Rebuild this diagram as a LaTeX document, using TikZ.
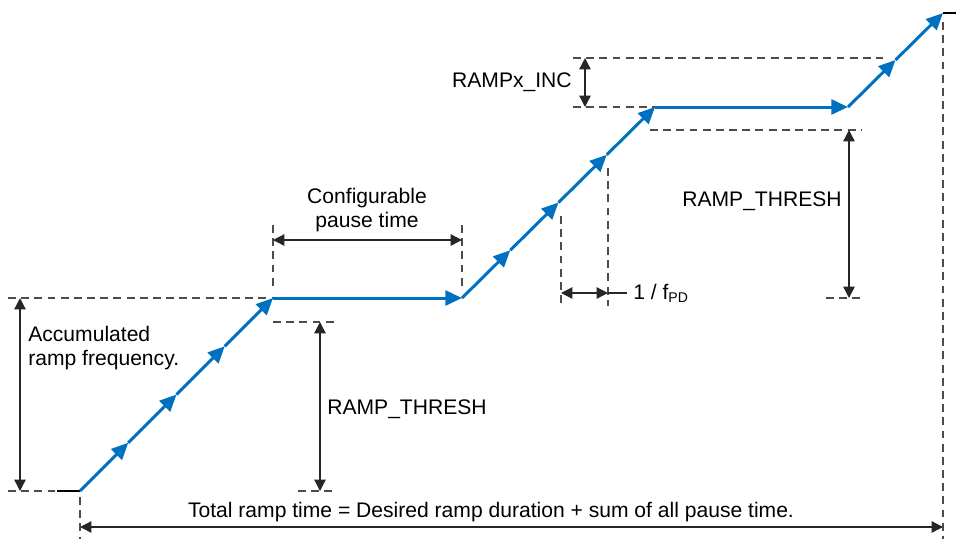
\documentclass[tikz,border=0pt]{standalone}
\usepackage{fontspec}
\setmainfont{Liberation Sans}
\usetikzlibrary{arrows.meta}

\definecolor{rampblue}{RGB}{0,112,192}
\tikzset{
  ramp/.style={draw=rampblue, line width=1.7pt, -{Triangle[length=9.5pt,width=8.5pt]}},
  flat/.style={draw=black, line width=1.1pt},
  guide/.style={draw=black!70, line width=0.75pt, dash pattern=on 4.5pt off 3pt},
  dim/.style={draw=black!85, line width=0.75pt, {Triangle[length=6.5pt,width=6.5pt]}-{Triangle[length=6.5pt,width=6.5pt]}},
  lbl/.style={inner sep=0pt, font=\fontsize{12}{13.6}\selectfont}
}

\begin{document}
\begin{tikzpicture}[x=0.02cm, y=-0.02cm]
                    \useasboundingbox (0,0) rectangle (956,539);
                    % Ramp points
                    \coordinate (s0) at (57,491);
                    \coordinate (r0) at (80,491);
                    \coordinate (r1) at (128.25,442.75);
                    \coordinate (r2) at (176.5,394.5);
                    \coordinate (r3) at (224.75,346.25);
                    \coordinate (r4) at (273,298);
                    \coordinate (p1) at (462,298);
                    \coordinate (r5) at (510.25,250.25);
                    \coordinate (r6) at (558.5,202.5);
                    \coordinate (r7) at (606.75,154.75);
                    \coordinate (r8) at (655,107);
                    \coordinate (p2) at (848,107);
                    \coordinate (r9) at (895.5,60);
                    \coordinate (r10) at (943,13);
                    \coordinate (e0) at (956,13);
                    % Guide points
                    \coordinate (accTop) at (8,298);
                    \coordinate (accBot) at (8,491);
                    \coordinate (accA) at (20,298);
                    \coordinate (accB) at (20,491);
                    \coordinate (thA1) at (273,322);
                    \coordinate (thA2) at (335,322);
                    \coordinate (thA3) at (298,491);
                    \coordinate (thA4) at (335,491);
                    \coordinate (thAtop) at (320,322);
                    \coordinate (thAbot) at (320,491);
                    \coordinate (pzA1) at (273,225);
                    \coordinate (pzA2) at (273,290);
                    \coordinate (pzB1) at (462,225);
                    \coordinate (pzB2) at (462,290);
                    \coordinate (pzL) at (273,240);
                    \coordinate (pzR) at (462,240);
                    \coordinate (pdA1) at (561,216);
                    \coordinate (pdA2) at (561,306);
                    \coordinate (pdB1) at (608,168);
                    \coordinate (pdB2) at (608,306);
                    \coordinate (pdL) at (561,293);
                    \coordinate (pdR) at (608,293);
                    \coordinate (incA1) at (573,58);
                    \coordinate (incA2) at (883,58);
                    \coordinate (incB1) at (573,107);
                    \coordinate (incTop) at (585,58);
                    \coordinate (incBot) at (585,107);
                    \coordinate (thB1) at (650,130);
                    \coordinate (thB2) at (862,130);
                    \coordinate (thB3) at (826,298);
                    \coordinate (thB4) at (862,298);
                    \coordinate (thBtop) at (849,130);
                    \coordinate (thBbot) at (849,298);
                    \coordinate (endTop) at (943,22);
                    \coordinate (endBot) at (943,539);
                    \coordinate (begTop) at (80,497);
                    \coordinate (begBot) at (80,539);
                    \coordinate (totL) at (80,527);
                    \coordinate (totR) at (943,527);
                    % Nodes
                    \node[lbl, anchor=north west, align=left] (acc) at (28,326) {Accumulated\\ramp frequency.};
                    \node[lbl, anchor=west] (threshA) at (327,409) {RAMP\_THRESH};
                    \node[lbl, anchor=north, align=center] (pause) at (367,188) {Configurable\\pause time};
                    \node[lbl, anchor=west, inner sep=3.4pt] (fpd) at (627,293) {1 / f\textsubscript{PD}};
                    \node[lbl, anchor=east] (inc) at (572,82) {RAMPx\_INC};
                    \node[lbl, anchor=east] (threshB) at (842,201) {RAMP\_THRESH};
                    \node[lbl] (total) at (491,512) {Total ramp time = Desired ramp duration + sum of all pause time.};
                    % Guides
                    \draw[guide] (accTop) -- (r4);
                    \draw[guide] (accBot) -- (s0);
                    \draw[guide] (thA1) -- (thA2);
                    \draw[guide] (thA3) -- (thA4);
                    \draw[guide] (pzA1) -- (pzA2);
                    \draw[guide] (pzB1) -- (pzB2);
                    \draw[guide] (pdA1) -- (pdA2);
                    \draw[guide] (pdB1) -- (pdB2);
                    \draw[guide] (incA1) -- (incA2);
                    \draw[guide] (incB1) -- (r8);
                    \draw[guide] (thB1) -- (thB2);
                    \draw[guide] (thB3) -- (thB4);
                    \draw[guide] (endTop) -- (endBot);
                    \draw[guide] (begTop) -- (begBot);
                    % Dimensions
                    \draw[dim] (accA) -- (accB);
                    \draw[dim] (thAtop) -- (thAbot);
                    \draw[dim] (pzL) -- (pzR);
                    \draw[dim] (pdL) -- (pdR);
                    \draw[draw=black!85, line width=0.75pt] (pdR) -- (fpd);
                    \draw[dim] (incTop) -- (incBot);
                    \draw[dim] (thBtop) -- (thBbot);
                    \draw[dim] (totL) -- (totR);
                    % Ramp
                    \draw[flat] (s0) -- (r0);
                    \draw[ramp] (r0) -- (r1);
                    \draw[ramp] (r1) -- (r2);
                    \draw[ramp] (r2) -- (r3);
                    \draw[ramp] (r3) -- (r4);
                    \draw[ramp] (r4) -- (p1);
                    \draw[ramp] (p1) -- (r5);
                    \draw[ramp] (r5) -- (r6);
                    \draw[ramp] (r6) -- (r7);
                    \draw[ramp] (r7) -- (r8);
                    \draw[ramp] (r8) -- (p2);
                    \draw[ramp] (p2) -- (r9);
                    \draw[ramp] (r9) -- (r10);
                    \draw[flat] (r10) -- (e0);
                \end{tikzpicture}
\end{document}
